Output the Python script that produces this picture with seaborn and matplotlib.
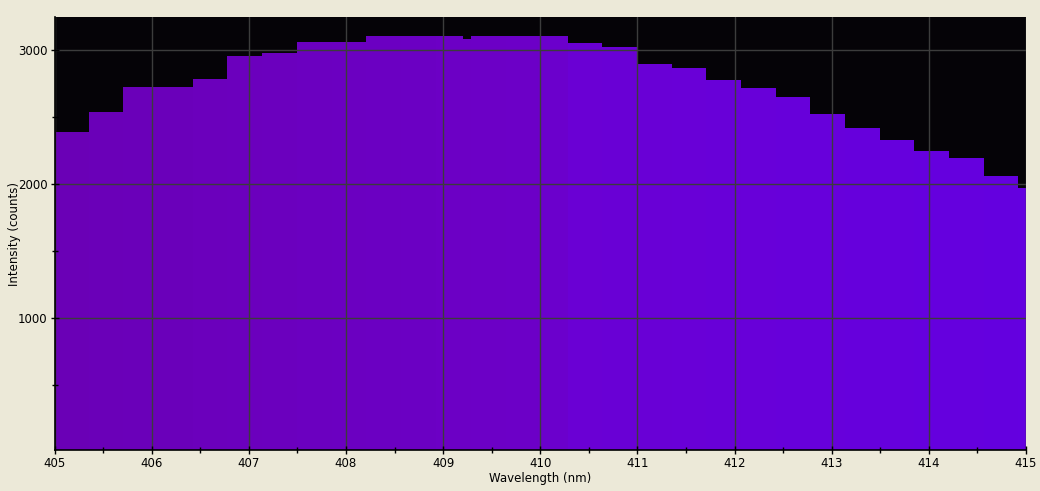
import numpy as np
import pandas as pd
import matplotlib
matplotlib.use("Agg")
import matplotlib.pyplot as plt
from matplotlib.colors import LinearSegmentedColormap
from matplotlib.ticker import MultipleLocator
import seaborn as sns

# ---- data ----
bin_edges_nm = [404.64, 405.355, 405.705, 406.065, 406.426, 406.776, 407.136, 407.496,
                407.856, 408.206, 408.567, 408.927, 409.205, 409.287, 409.647, 410.008,
                410.286, 410.636, 410.996, 411.357, 411.707, 412.067, 412.427, 412.777,
                413.137, 413.498, 413.848, 414.208, 414.568, 414.918, 415.28]
intensity_counts = [2390, 2540, 2726, 2726, 2786, 2958, 2981, 3063, 3063, 3107,
                    3107, 3107, 3084, 3107, 3107, 3107, 3055, 3025, 2898, 2868,
                    2779, 2719, 2651, 2525, 2420, 2331, 2249, 2196, 2062, 1972]
x_ticks = [405, 406, 407, 408, 409, 410, 411, 412, 413, 414, 415]
y_ticks = [1000, 2000, 3000]

edges = np.array(bin_edges_nm)
centers = (edges[:-1] + edges[1:]) / 2
df = pd.DataFrame({"wavelength": centers, "intensity": intensity_counts})

sns.set_style("dark")
plt.rcParams["font.family"] = ["DejaVu Sans"]

fig = plt.figure(figsize=(10.4, 4.91), dpi=100, facecolor="#ece9d8")
ax = fig.add_axes([54.5 / 1040, 1 - 450.3 / 491, (1026 - 54.5) / 1040, (450.3 - 17) / 491])
ax.set_facecolor("#050307")

sns.histplot(data=df, x="wavelength", weights="intensity", bins=list(bin_edges_nm),
             element="bars", stat="count", linewidth=0, alpha=1, ax=ax)

cmap = LinearSegmentedColormap.from_list(
    "violet", [(0.0, "#6a00b6"), (0.5, "#6c00c8"), (0.54, "#6a00d4"), (1.0, "#6400e0")])
for p in ax.patches:
    c = p.get_x() + p.get_width() / 2
    t = (c - 405) / 10
    p.set_facecolor(cmap(np.clip(t, 0, 1)))
    p.set_edgecolor("none")
    p.set_zorder(1)

ax.set_xlim(405, 415)
ax.set_ylim(15, 3248)
ax.set_xticks(x_ticks)
ax.set_xticklabels([str(v) for v in x_ticks])
ax.set_yticks(y_ticks)
ax.set_yticklabels([str(v) for v in y_ticks])
ax.xaxis.set_minor_locator(MultipleLocator(0.5))
ax.yaxis.set_minor_locator(MultipleLocator(500))

ax.set_axisbelow(False)
ax.grid(True, which="major", color="#3c3c3c", linewidth=1.0)
ax.grid(False, which="minor")

for s in ["top", "right"]:
    ax.spines[s].set_visible(False)
for s in ["left", "bottom"]:
    ax.spines[s].set_visible(True)
    ax.spines[s].set_color("black")
    ax.spines[s].set_linewidth(1.2)
    ax.spines[s].set_zorder(3)

ax.tick_params(axis="both", which="major", direction="inout", length=6, width=1,
               color="black", labelsize=8.5, labelcolor="black", pad=2, bottom=True, left=True)
ax.tick_params(axis="both", which="minor", direction="inout", length=5, width=1,
               color="black", bottom=True, left=True)

ax.set_xlabel("Wavelength (nm)", fontsize=8.5, color="black", labelpad=1)
ax.set_ylabel("Intensity (counts)", fontsize=8.5, color="black", labelpad=-2)

fig.savefig("out.png", dpi=100, facecolor=fig.get_facecolor())
